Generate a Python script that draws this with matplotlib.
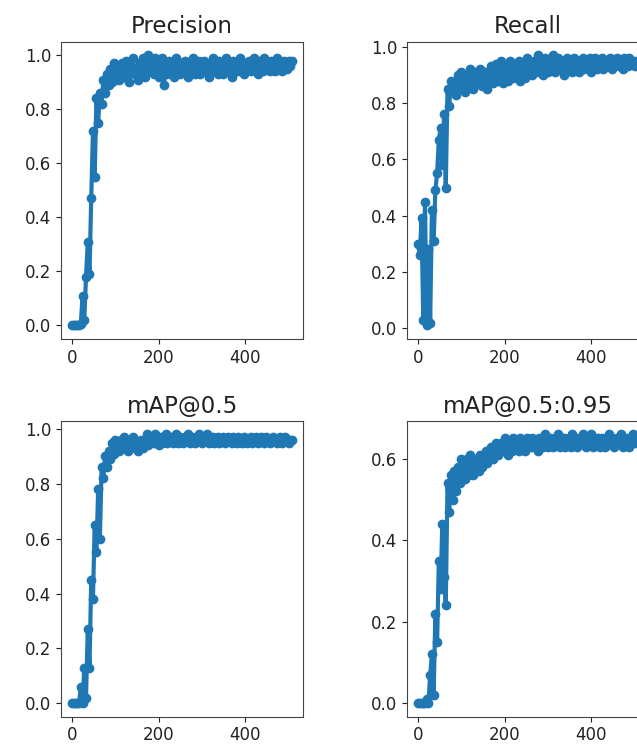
import numpy as np #Array
import matplotlib
matplotlib.use("Agg")
import matplotlib.pyplot as plt #Plots

#Epochs, one point every 4 epochs
epochs = list(range(0, 512, 4))

#Values
precision = [0.0, 0.0, 0.0, 0.0, 0.0, 0.005, 0.11, 0.02, 0.18, 0.31,
             0.19, 0.47, 0.72, 0.55, 0.84, 0.75, 0.86, 0.82, 0.91, 0.86,
             0.93, 0.89, 0.95, 0.90, 0.97, 0.91,
             0.95, 0.91, 0.93, 0.97, 0.92, 0.98, 0.94, 0.90, 0.96, 0.99,
             0.93, 0.95, 0.91, 0.97, 0.94, 0.99, 0.92, 0.96, 1.00, 0.94,
             0.97, 0.93, 0.99, 0.95, 0.92, 0.97, 0.99, 0.89, 0.95, 0.93,
             0.98, 0.94, 0.96, 0.92, 0.99, 0.95, 0.93, 0.97, 0.94, 0.98,
             0.95, 0.92, 0.97, 0.94, 0.99, 0.93, 0.96, 0.98, 0.93, 0.95,
             0.98, 0.94, 0.96, 0.92, 0.97, 0.99, 0.94, 0.96, 0.93, 0.98,
             0.95, 0.93, 0.97, 0.99, 0.94, 0.96, 0.92, 0.98, 0.95, 0.97,
             0.94, 0.99, 0.96, 0.93, 0.97, 0.95, 0.98, 0.94, 0.96, 0.99,
             0.95, 0.93, 0.98, 0.96, 0.94, 0.99, 0.95, 0.97, 0.94, 0.98,
             0.96, 0.94, 0.99, 0.95, 0.97, 0.94, 0.98, 0.96, 0.95, 0.98,
             0.96, 0.98]

recall = [0.30, 0.26, 0.39, 0.03, 0.45, 0.01, 0.28, 0.02, 0.42, 0.31,
          0.49, 0.55, 0.67, 0.71, 0.58, 0.76, 0.50, 0.85, 0.79, 0.88,
          0.84, 0.87, 0.83, 0.90, 0.85, 0.91,
          0.87, 0.84, 0.90, 0.86, 0.92, 0.88, 0.85, 0.91, 0.87, 0.89,
          0.92, 0.86, 0.88, 0.91, 0.85, 0.90, 0.93, 0.87, 0.89, 0.94,
          0.88, 0.91, 0.95, 0.87, 0.93, 0.90, 0.88, 0.95, 0.91, 0.89,
          0.93, 0.90, 0.95, 0.88, 0.92, 0.94, 0.89, 0.96, 0.91, 0.93,
          0.90, 0.95, 0.92, 0.97, 0.91, 0.94, 0.90, 0.96, 0.93, 0.91,
          0.95, 0.92, 0.97, 0.91, 0.94, 0.96, 0.92, 0.95, 0.90, 0.94,
          0.96, 0.92, 0.94, 0.91, 0.96, 0.93, 0.95, 0.91, 0.94, 0.96,
          0.92, 0.95, 0.93, 0.96, 0.91, 0.94, 0.96, 0.92, 0.95, 0.93,
          0.96, 0.92, 0.94, 0.95, 0.93, 0.96, 0.92, 0.95, 0.94, 0.96,
          0.93, 0.95, 0.92, 0.96, 0.94, 0.93, 0.96, 0.94, 0.95, 0.93,
          0.95, 0.94]

map50 = [0.0, 0.0, 0.0, 0.0, 0.0, 0.06, 0.0, 0.13, 0.02, 0.27,
         0.13, 0.45, 0.38, 0.65, 0.55, 0.78, 0.60, 0.86, 0.82, 0.90,
         0.86, 0.92, 0.89, 0.95, 0.91, 0.96,
         0.94, 0.92, 0.96, 0.93, 0.97, 0.95, 0.92, 0.96, 0.94, 0.97,
         0.93, 0.95, 0.92, 0.94, 0.96, 0.93, 0.95, 0.98, 0.94, 0.96,
         0.97, 0.95, 0.98, 0.96, 0.94, 0.97, 0.95, 0.96, 0.98, 0.95,
         0.96, 0.97, 0.95, 0.96, 0.98, 0.95, 0.97, 0.96, 0.95, 0.97,
         0.96, 0.98, 0.95, 0.97, 0.96, 0.95, 0.97, 0.98, 0.96, 0.95,
         0.97, 0.96, 0.98, 0.95, 0.96, 0.97, 0.95, 0.96, 0.97, 0.95,
         0.96, 0.97, 0.95, 0.96, 0.97, 0.96, 0.95, 0.97, 0.96, 0.95,
         0.97, 0.96, 0.95, 0.97, 0.96, 0.95, 0.96, 0.97, 0.95, 0.96,
         0.97, 0.95, 0.96, 0.97, 0.96, 0.95, 0.97, 0.96, 0.95, 0.96,
         0.97, 0.96, 0.95, 0.96, 0.97, 0.95, 0.96, 0.97, 0.96, 0.95,
         0.96, 0.96]

map5095 = [0.0, 0.0, 0.0, 0.0, 0.0, 0.01, 0.0, 0.07, 0.12, 0.02,
           0.22, 0.15, 0.35, 0.28, 0.44, 0.31, 0.24, 0.54, 0.47, 0.56,
           0.50, 0.57, 0.52, 0.58, 0.54, 0.60,
           0.57, 0.55, 0.60, 0.56, 0.61, 0.58, 0.56, 0.60, 0.59, 0.57,
           0.61, 0.58, 0.60, 0.62, 0.59, 0.61, 0.63, 0.60, 0.62, 0.64,
           0.61, 0.63, 0.64, 0.62, 0.65, 0.63, 0.61, 0.64, 0.62, 0.65,
           0.63, 0.64, 0.62, 0.65, 0.63, 0.64, 0.62, 0.65, 0.64, 0.63,
           0.65, 0.63, 0.64, 0.62, 0.65, 0.64, 0.63, 0.66, 0.64, 0.63,
           0.65, 0.64, 0.63, 0.65, 0.64, 0.66, 0.63, 0.64, 0.65, 0.63,
           0.64, 0.65, 0.63, 0.66, 0.64, 0.65, 0.63, 0.64, 0.65, 0.66,
           0.64, 0.63, 0.65, 0.64, 0.66, 0.63, 0.65, 0.64, 0.65, 0.63,
           0.65, 0.64, 0.63, 0.65, 0.66, 0.64, 0.65, 0.63, 0.64, 0.65,
           0.64, 0.66, 0.63, 0.65, 0.64, 0.65, 0.63, 0.64, 0.66, 0.64,
           0.65, 0.64]

titles = ["Precision", "Recall", "mAP@0.5", "mAP@0.5:0.95"]
series = [precision, recall, map50, map5095]
yticks = [[0, 0.2, 0.4, 0.6, 0.8, 1.0],
          [0, 0.2, 0.4, 0.6, 0.8, 1.0],
          [0, 0.2, 0.4, 0.6, 0.8, 1.0],
          [0, 0.2, 0.4, 0.6]]

#Figure size in pixels 637x745
fig = plt.figure(figsize=(6.37, 7.45), dpi=100)
fig.patch.set_facecolor("white")

#Axes boxes [left, bottom, width, height], right column runs past the edge
boxes = [[0.096, 0.545, 0.380, 0.399],
         [0.639, 0.545, 0.380, 0.399],
         [0.096, 0.038, 0.380, 0.397],
         [0.639, 0.038, 0.380, 0.397]]

for box, title, values, yt in zip(boxes, titles, series, yticks):
    ax = fig.add_axes(box)
    ax.plot(epochs, values, marker=".", linewidth=3, markersize=12, color="#1f77b4")
    ax.set_title(title, fontsize=16.5, color="#222222")
    ax.set_xticks([0, 200, 400])
    ax.set_yticks(yt)
    ax.tick_params(labelsize=12, colors="#222222")
    for s in ax.spines.values():
        s.set_color("#444444")

#Save the plot
plt.savefig("out.png", dpi=100)
